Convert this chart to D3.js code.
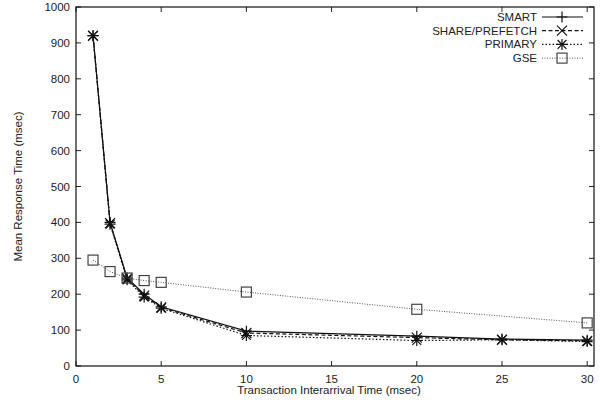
<!DOCTYPE html>
<html><head><meta charset="utf-8">
<script src="https://cdn.jsdelivr.net/npm/d3@7"></script>
<style>body{margin:0;background:#fff}svg text{font-family:"Liberation Sans",Arial,sans-serif;font-size:11.5px;fill:#222}</style>
</head><body><svg id="c" width="603" height="404"></svg>
<script>
const xValues = [1, 2, 3, 4, 5, 10, 20, 25, 30];
const smart = [920, 400, 245, 200, 165, 97, 83, 75, 72];
const sharePrefetch = [920, 398, 243, 196, 163, 92, 79, 73, 70];
const primary = [920, 395, 240, 192, 161, 85, 71, 73, 68];
const gseX = [1, 2, 3, 4, 5, 10, 20, 30];
const gse = [295, 263, 245, 238, 233, 206, 158, 120];
const xTicks = [0, 5, 10, 15, 20, 25, 30];
const yTicks = [0, 100, 200, 300, 400, 500, 600, 700, 800, 900, 1000];
const seriesNames = ["SMART", "SHARE/PREFETCH", "PRIMARY", "GSE"];

const svg = d3.select("#c");
const L = 76, R = 594, T = 7, B = 366;
const x = d3.scaleLinear().domain([0, 30.4]).range([L, R]);
const y = d3.scaleLinear().domain([0, 1000]).range([B, T]);

// ticks (inward, mirrored)
const tk = svg.append("g").attr("stroke", "#222").attr("stroke-width", 1);
xTicks.forEach(v => {
  tk.append("line").attr("x1", x(v)).attr("x2", x(v)).attr("y1", B).attr("y2", B - 5);
  tk.append("line").attr("x1", x(v)).attr("x2", x(v)).attr("y1", T).attr("y2", T + 5);
});
yTicks.forEach(v => {
  tk.append("line").attr("x1", L).attr("x2", L + 5).attr("y1", y(v)).attr("y2", y(v));
  tk.append("line").attr("x1", R).attr("x2", R - 5).attr("y1", y(v)).attr("y2", y(v));
});
svg.append("rect").attr("x", L).attr("y", T).attr("width", R - L).attr("height", B - T)
  .attr("fill", "none").attr("stroke", "#111").attr("stroke-width", 1.2);

// tick labels
svg.append("g").selectAll("text").data(xTicks).join("text")
  .attr("x", d => x(d)).attr("y", B + 17).attr("text-anchor", "middle").text(d => d);
svg.append("g").selectAll("text").data(yTicks).join("text")
  .attr("x", L - 6).attr("y", d => y(d) + 4).attr("text-anchor", "end").text(d => d);

svg.append("text").attr("x", (L + R) / 2 - 6).attr("y", B + 28).attr("text-anchor", "middle")
  .text("Transaction Interarrival Time (msec)");
svg.append("text").attr("transform", `translate(22,${(T + B) / 2}) rotate(-90)`)
  .attr("text-anchor", "middle").text("Mean Response Time (msec)");

// markers
function plus(g, cx, cy, s) {
  g.append("path").attr("d", `M${cx - s},${cy}H${cx + s}M${cx},${cy - s}V${cy + s}`);
}
function cross(g, cx, cy, s) {
  g.append("path").attr("d", `M${cx - s},${cy - s}L${cx + s},${cy + s}M${cx - s},${cy + s}L${cx + s},${cy - s}`);
}
function star(g, cx, cy, s) { plus(g, cx, cy, s); cross(g, cx, cy, s * 0.8); }
function square(g, cx, cy, s) {
  g.append("rect").attr("x", cx - s).attr("y", cy - s).attr("width", 2 * s).attr("height", 2 * s).attr("fill", "none");
}

const series = [
  {name: seriesNames[0], xs: xValues, ys: smart, dash: null, color: "#111", w: 1.2, mk: plus, ms: 5.5},
  {name: seriesNames[1], xs: xValues, ys: sharePrefetch, dash: "4,2.5", color: "#111", w: 1.2, mk: cross, ms: 5},
  {name: seriesNames[2], xs: xValues, ys: primary, dash: "1.5,2", color: "#111", w: 1.2, mk: star, ms: 5.5},
  {name: seriesNames[3], xs: gseX, ys: gse, dash: "1,1.5", color: "#555", w: 1, mk: square, ms: 5}
];
const line = d3.line().x(d => x(d[0])).y(d => y(d[1]));
series.forEach(s => {
  const pts = s.xs.map((v, i) => [v, s.ys[i]]);
  svg.append("path").attr("d", line(pts)).attr("fill", "none").attr("stroke", s.color)
    .attr("stroke-width", s.w).attr("stroke-dasharray", s.dash);
  const g = svg.append("g").attr("stroke", s.mk === square ? "#444" : "#111").attr("stroke-width", 1.2).attr("fill", "none");
  pts.forEach(p => s.mk(g, x(p[0]), y(p[1]), s.ms));
});

// legend
series.forEach((s, i) => {
  const ly = 17 + i * 13.7;
  svg.append("text").attr("x", 537).attr("y", ly + 4).attr("text-anchor", "end").text(s.name);
  svg.append("line").attr("x1", 542).attr("x2", 583).attr("y1", ly).attr("y2", ly)
    .attr("stroke", s.color).attr("stroke-width", s.w).attr("stroke-dasharray", s.dash);
  const g = svg.append("g").attr("stroke", s.mk === square ? "#444" : "#111").attr("stroke-width", 1.2).attr("fill", "none");
  s.mk(g, 562, ly, s.ms);
});
</script></body></html>
